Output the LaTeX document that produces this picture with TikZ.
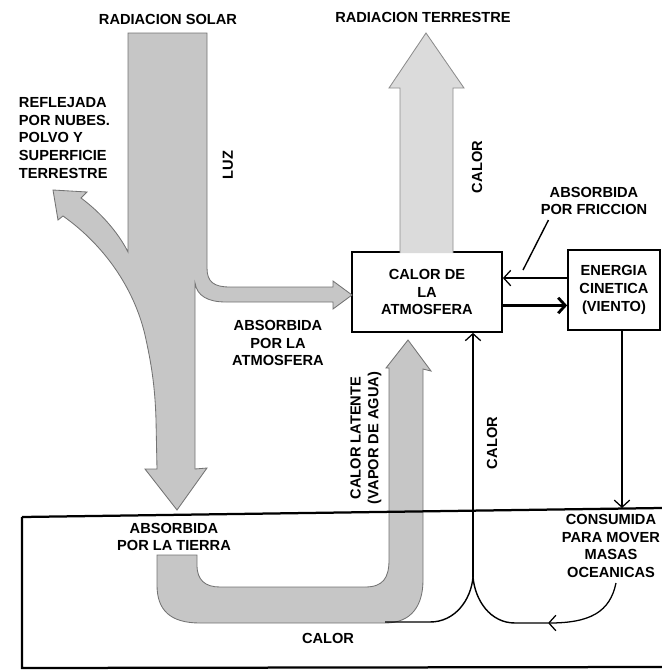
\documentclass[tikz,border=0pt]{standalone}
\usepackage{fontspec}
\setmainfont{Liberation Sans}
\usetikzlibrary{arrows.meta}

\tikzset{
    kasten/.style={draw, line width=1.2pt, minimum width=3.75cm, minimum height=2cm, align=center},
    schrift/.style={align=center, font=\fontsize{10.4}{12.6}\selectfont\bfseries},
    strom/.style={fill=gray!45, draw=black!55, line width=0.6pt},
    hell/.style={fill=gray!28, draw=black!45, line width=0.6pt},
    pfeil/.style={-{Straight Barb[length=5pt,width=11pt]}, line width=0.9pt}
}

\begin{document}
\begin{tikzpicture}[x=0.025cm, y=-0.025cm, every node/.style={schrift}]
    \useasboundingbox (0,0) rectangle (662,671);
    \path node (radsolar) at (168,19) {RADIACION SOLAR}
        node (radterr) at (423,17) {RADIACION TERRESTRE}
        node[anchor=west, align=left] (reflejada) at (14,138) {REFLEJADA\\POR NUBES.\\POLVO Y\\SUPERFICIE\\TERRESTRE}
        node[rotate=90] (luz) at (228,165) {LUZ}
        node (absatm) at (278,343) {ABSORBIDA\\POR LA\\ATMOSFERA}
        node[rotate=90] (calorarriba) at (477,167) {CALOR}
        node (reibung) at (594,201) {ABSORBIDA\\POR FRICCION}
        node[kasten] (atmos) at (427,292) {CALOR DE\\LA\\ATMOSFERA}
        node[kasten, minimum width=2.3cm] (energie) at (614,290) {ENERGIA\\CINETICA\\(VIENTO)}
        node (abstierra) at (174,537) {ABSORBIDA\\POR LA TIERRA}
        node[rotate=90] (latente) at (366,438) {CALOR LATENTE\\(VAPOR DE AGUA)}
        node[rotate=90] (calormedio) at (492,443) {CALOR}
        node (consumida) at (611,546) {CONSUMIDA\\PARA MOVER\\MASAS\\OCEANICAS}
        node (calorabajo) at (328,638) {CALOR};
    \coordinate (teilung) at (473,577);
    \coordinate (mitte) at (548,623);
    \coordinate (ozean) at (616,583);
    \coordinate (boden) at (385,622);
    \coordinate (wind) at (622,508);
    \coordinate (reibende) at (523,270);
    \draw[strom] (128,33) -- (207,33) -- (207,268) .. controls (207,282) and (214,287) .. (230,287)
        -- (333,287) -- (333,281) -- (352,295) -- (333,309) -- (333,302) -- (226,302)
        .. controls (208,302) and (197,296) .. (195,283) -- (195,469) -- (207,468) -- (177,510)
        -- (145,469) -- (157,469) -- (156,420) .. controls (155,385) and (151,362) .. (145,335)
        .. controls (134,288) and (104,245) .. (63,216) -- (58,220) -- (53,190) -- (87,192)
        -- (81,198) .. controls (100,212) and (118,232) .. (128,252) -- cycle;
    \draw[hell] (400,253) -- (400,88) -- (389,88) -- (426,33) -- (464,88) -- (453,88) -- (453,253);
    \draw[strom] (157,555) -- (157,585) .. controls (157,610) and (170,623) .. (200,623) -- (385,623)
        .. controls (412,623) and (423,605) .. (423,580) -- (423,369) -- (431,371) -- (408,340)
        -- (386,368) -- (389,368) -- (389,560) .. controls (389,578) and (383,587) .. (365,587)
        -- (220,587) .. controls (205,587) and (197,580) .. (197,565) -- (197,555) -- cycle;
    \draw[pfeil] ([yshift=8.5pt]energie.west) -- ([yshift=8.5pt]energie.west -| atmos.east);
    \draw[pfeil, line width=2pt] ([yshift=-11pt]energie.west -| atmos.east) -- ([yshift=-11pt]energie.west);
    \draw[line width=1pt] ([xshift=9pt]reibung.south west) -- (reibende);
    \draw[pfeil] (energie.south -| wind) -- (wind);
    \draw[pfeil] (teilung) -- (teilung |- atmos.south);
    \draw[line width=1pt] (boden) -- (430,622) .. controls (455,622) and (471,600) .. (teilung);
    \draw[line width=1pt] (mitte) -- (515,623) .. controls (490,623) and (475,600) .. (teilung);
    \draw[pfeil] (ozean) .. controls (610,612) and (590,623) .. (mitte);
    \draw[line width=1.6pt] (22,517) -- (662,508);
    \draw[line width=1.6pt] (22,517) -- (22,668) -- (662,667);
\end{tikzpicture}
\end{document}
